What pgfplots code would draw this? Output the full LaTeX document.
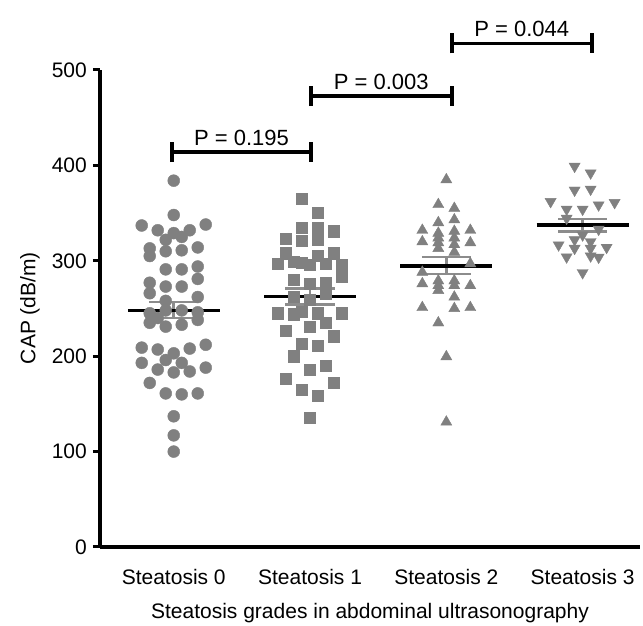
\documentclass[border=0pt]{standalone}
\usepackage{fontspec}
\setmainfont{Liberation Sans}
\usepackage{pgfplots}
\usepackage{pgfplotstable}
\pgfplotsset{compat=1.18}
\definecolor{dot}{RGB}{128,128,128}
\definecolor{semc}{RGB}{140,140,140}

\pgfplotstableread{
g o y
0 0 384
0 0 348
0 -4 337
0 4 338
0 -2 332
0 0 329
0 2 332
0 1 325
0 -1 322
0 -3 313
0 -3 305
0 -1 310
0 1 311
0 3 314
0 -1 291
0 1 291
0 3 294
0 3 281
0 -3 277
0 -1 273
0 1 273
0 -3 266
0 3 262
0 -1 258
0 -3 245
0 -1 248
0 1 248
0 3 246
0 -2 240
0 -3 235
0 -1 231
0 1 233
0 3 238
0 -4 209
0 -2 207
0 0 203
0 2 208
0 4 212
0 -4 193
0 -1 196
0 1 193
0 -2 186
0 0 183
0 2 184
0 4 188
0 -3 172
0 -1 161
0 1 160
0 3 161
0 0 137
0 0 117
0 0 100
}\groupzero

\pgfplotstableread{
g o y
1 -1 365.5
1 1 350
1 -1 335
1 1 335
1 3 331
1 -3 323
1 -1 321
1 1 322
1 -3 308
1 -4 297
1 -2 299
1 -1 298
1 0 296
1 1 305
1 2 297
1 3 308
1 4 296
1 -2 280
1 0 276
1 2 277
1 4 283
1 -2 262
1 0 259
1 2 266
1 -4 245
1 -2 244
1 -1 247
1 1 245
1 4 245
1 -3 227
1 0 231
1 2 235
1 3 221
1 -1 213
1 1 211
1 -2 200
1 2 190
1 0 186
1 -3 176
1 3 172
1 -1 165
1 1 159
1 0 135.5
}\groupone

\pgfplotstableread{
g o y
2 0 385
2 -1 359
2 1 355
2 -1 340
2 1 343
2 -3 332
2 -3 320
2 -1 329
2 -1 324
2 -1 319
2 1 331
2 1 324
2 1 317
2 3 332
2 3 319
2 -1 313
2 1 309
2 3 297
2 -3 288
2 -3 276
2 -1 279
2 -1 274
2 -1 269
2 1 279
2 1 274
2 3 274
2 1 262
2 -3 251
2 1 250
2 3 251
2 -1 235
2 0 199.5
2 0 131
}\grouptwo

\pgfplotstableread{
g o y
3 -1 399
3 1 392
3 -1 374
3 1 375
3 -4 362
3 -2 354
3 0 354
3 2 358.5
3 4 361
3 -2 344.5
3 2 333
3 0 327
3 -1 322
3 1 320
3 -3 316.6
3 -1 313
3 1 313
3 3 314
3 -2 304
3 1 305
3 2 303.7
3 0 287.5
}\groupthree

\begin{document}
\fontsize{21}{24}\selectfont
\begin{tikzpicture}
\useasboundingbox (0,0) rectangle (643pt,626pt);
\begin{axis}[
  at={(100pt,79pt)}, anchor=south west,
  scale only axis, width=540pt, height=477pt,
  xmin=-0.541, xmax=3.421, ymin=0, ymax=500,
  axis x line*=bottom, axis y line*=left,
  axis line style={line width=3.2pt, -},
  ytick={0,100,200,300,400,500},
  xtick={0,1,2,3},
  xticklabels={Steatosis 0,Steatosis 1,Steatosis 2,Steatosis 3},
  xtick style={draw=none},
  ytick style={line width=3pt, black},
  tick align=outside, major tick length=7pt,
  /pgf/number format/assume math mode=true,
  ticklabel style={font=\fontsize{21}{24}\selectfont},
  xticklabel style={yshift=-8pt},
  yticklabel style={xshift=1pt},
  clip=false,
]
\addplot[only marks, mark=*, mark size=6pt, color=dot, mark options={draw=dot, fill=dot}]
  table[x expr=\thisrow{g}+0.0587*\thisrow{o}, y=y]{\groupzero};
\addplot[only marks, mark=square*, mark size=5.6pt, color=dot, mark options={draw=dot, fill=dot}]
  table[x expr=\thisrow{g}+0.0587*\thisrow{o}, y=y]{\groupone};
\addplot[only marks, mark=triangle*, mark size=6.4pt, color=dot, mark options={draw=dot, fill=dot}]
  table[x expr=\thisrow{g}+0.0587*\thisrow{o}, y=y]{\grouptwo};
\addplot[only marks, mark=triangle*, mark size=6.4pt, color=dot, mark options={draw=dot, fill=dot, rotate=180}]
  table[x expr=\thisrow{g}+0.0587*\thisrow{o}, y=y]{\groupthree};

% SEM bars
\addplot[semc, line width=2.6pt] coordinates {(-0.18,257) (0.18,257)};
\addplot[semc, line width=2.6pt] coordinates {(-0.18,240) (0.18,240)};
\addplot[semc, line width=2.6pt] coordinates {(0,240) (0,257)};
\addplot[semc, line width=2.6pt] coordinates {(0.82,271) (1.18,271)};
\addplot[semc, line width=2.6pt] coordinates {(0.82,254) (1.18,254)};
\addplot[semc, line width=2.6pt] coordinates {(1,254) (1,271)};
\addplot[semc, line width=2.6pt] coordinates {(1.82,304) (2.18,304)};
\addplot[semc, line width=2.6pt] coordinates {(1.82,286) (2.18,286)};
\addplot[semc, line width=2.6pt] coordinates {(2,286) (2,304)};
\addplot[semc, line width=2.6pt] coordinates {(2.82,344) (3.18,344)};
\addplot[semc, line width=2.6pt] coordinates {(2.82,331) (3.18,331)};
\addplot[semc, line width=2.6pt] coordinates {(3,331) (3,344)};

% mean bars
\addplot[black, line width=3.2pt] coordinates {(-0.337,248) (0.337,248)};
\addplot[black, line width=3.2pt] coordinates {(0.663,262.5) (1.337,262.5)};
\addplot[black, line width=3.2pt] coordinates {(1.663,294.5) (2.337,294.5)};
\addplot[black, line width=3.2pt] coordinates {(2.663,337.5) (3.337,337.5)};

% significance brackets
\addplot[black, line width=3.5pt] coordinates {(-0.012,403.5) (-0.012,414) (1.007,414) (1.007,403.5)};
\addplot[black, line width=3.5pt] coordinates {(-0.012,424.5) (-0.012,414)};
\addplot[black, line width=3.5pt] coordinates {(1.007,424.5) (1.007,414)};
\addplot[black, line width=3.5pt] coordinates {(1.007,462) (1.007,472.6) (2.04,472.6) (2.04,462)};
\addplot[black, line width=3.5pt] coordinates {(1.007,483) (1.007,472.6)};
\addplot[black, line width=3.5pt] coordinates {(2.04,483) (2.04,472.6)};
\addplot[black, line width=3.5pt] coordinates {(2.04,517.5) (2.04,528) (3.067,528) (3.067,517.5)};
\addplot[black, line width=3.5pt] coordinates {(2.04,538.5) (2.04,528)};
\addplot[black, line width=3.5pt] coordinates {(3.067,538.5) (3.067,528)};
\node[anchor=base, font=\fontsize{22}{24}\selectfont] at (axis cs:0.497,414) [yshift=7pt] {P = 0.195};
\node[anchor=base, font=\fontsize{22}{24}\selectfont] at (axis cs:1.523,472.6) [yshift=7pt] {P = 0.003};
\node[anchor=base, font=\fontsize{22}{24}\selectfont] at (axis cs:2.553,528) [yshift=7pt] {P = 0.044};
\end{axis}
\node[rotate=90] at (30pt,318pt) {CAP (dB/m)};
\node at (370pt,13pt) {Steatosis grades in abdominal ultrasonography};
\end{tikzpicture}
\end{document}
